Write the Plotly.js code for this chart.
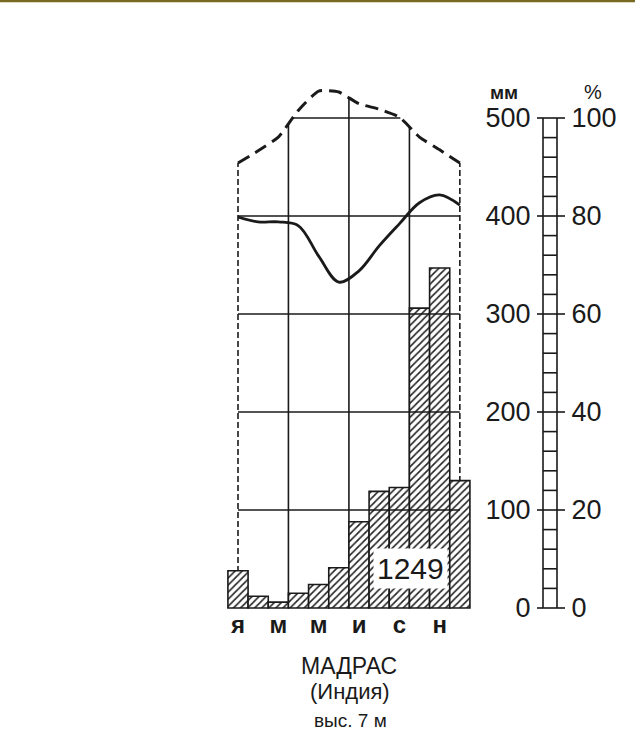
<!DOCTYPE html>
<html>
<head>
<meta charset="utf-8">
<script src="https://cdn.plot.ly/plotly-3.0.1.min.js"></script>
<style>
  html, body { margin: 0; padding: 0; background: #ffffff; }
  #chart { width: 635px; height: 744px; }
</style>
</head>
<body>
<div id="chart"></div>
<script>
// ---- data ----
const monthIndex = [1, 2, 3, 4, 5, 6, 7, 8, 9, 10, 11, 12];
const monthTickVals = [1, 3, 5, 7, 9, 11];
const monthTickText = ['я', 'м', 'м', 'и', 'с', 'н'];
const precipitationMm = [38, 12, 6, 15, 24, 41, 88, 119, 123, 306, 347, 130];
const humidityPct = [79.8, 78.8, 78.8, 78.0, 71.8, 66.5, 68.8, 73.9, 78.4, 82.7, 84.3, 82.2];
const dashedPct = [90.8, 93.3, 96.1, 101.6, 105.5, 105.3, 102.9, 101.8, 100.2, 96.1, 93.5, 90.8];
const mmTicks = [0, 100, 200, 300, 400, 500];
const pctTicks = [0, 20, 40, 60, 80, 100];
const annualTotalLabel = '1249';
const stationName = 'МАДРАС';
const countryName = '(Индия)';
const altitudeText = 'выс. 7 м';

// ---- geometry (pixel mapping of the page) ----
const W = 635, H = 744;
const pxPerMonth = 20.167, janCenterPx = 238;
const X_RANGE = [1 - janCenterPx / pxPerMonth, 1 + (W - janCenterPx) / pxPerMonth];
const zeroPx = 608, pxPerMm = 0.98;
const Y_RANGE = [-(H - zeroPx) / pxPerMm, zeroPx / pxPerMm];
const PCT_RANGE = [Y_RANGE[0] / 5, Y_RANGE[1] / 5];
const FONT = 'Liberation Sans, Arial, sans-serif';
const INK = '#1a1a1a';

function dashedAt(x) {
  const i = Math.min(Math.max(Math.floor(x) - 1, 0), 10);
  const t = x - monthIndex[i];
  return dashedPct[i] + (dashedPct[i + 1] - dashedPct[i]) * t;
}
function crossing(target, fromLeft) {
  if (fromLeft) {
    for (let i = 0; i < 11; i++) if (dashedPct[i] < target && dashedPct[i + 1] >= target)
      return monthIndex[i] + (target - dashedPct[i]) / (dashedPct[i + 1] - dashedPct[i]);
  } else {
    for (let i = 11; i > 0; i--) if (dashedPct[i] < target && dashedPct[i - 1] >= target)
      return monthIndex[i] - (target - dashedPct[i]) / (dashedPct[i - 1] - dashedPct[i]);
  }
  return null;
}

const shapes = [];
[3.5, 6.5, 9.5].forEach(x => shapes.push({
  type: 'line', xref: 'x', yref: 'y2', x0: x, x1: x, y0: 0, y1: dashedAt(x),
  line: { color: INK, width: 1.6 }, layer: 'below'
}));
[1, 12].forEach(x => shapes.push({
  type: 'line', xref: 'x', yref: 'y2', x0: x, x1: x, y0: 0, y1: dashedAt(x),
  line: { color: INK, width: 1.6, dash: '6px,3px' }, layer: 'below'
}));
mmTicks.filter(v => v > 0 && v < 500).forEach(v => shapes.push({
  type: 'line', xref: 'x', yref: 'y', x0: 1, x1: 12, y0: v, y1: v,
  line: { color: INK, width: 1.6 }, layer: 'above'
}));
const xl = crossing(100, true), xr = crossing(100, false);
shapes.push({
  type: 'line', xref: 'x', yref: 'y', x0: xl, x1: xr, y0: 500, y1: 500,
  line: { color: INK, width: 1.6 }, layer: 'below'
});
const ladL = 543 / W, ladR = 557 / W;
[ladL, ladR].forEach(x => shapes.push({
  type: 'line', xref: 'paper', yref: 'y', x0: x, x1: x, y0: 0, y1: 500,
  line: { color: INK, width: 1.6 }
}));
for (let v = 0; v <= 500; v += 20) {
  const major = v % 100 === 0;
  shapes.push({
    type: 'line', xref: 'paper', yref: 'y',
    x0: major ? 537 / W : ladL, x1: major ? 565 / W : ladR, y0: v, y1: v,
    line: { color: INK, width: 1.6 }
  });
}
shapes.push({
  type: 'rect', xref: 'paper', yref: 'paper', x0: 0, x1: 1, y0: 1 - 2.2 / H, y1: 1,
  fillcolor: '#776b22', line: { width: 0 }
});

const traces = [
  {
    type: 'bar', x: monthIndex, y: precipitationMm, yaxis: 'y', width: 1,
    marker: {
      color: '#ffffff',
      line: { color: INK, width: 1.6 },
      pattern: { shape: '/', fgcolor: '#222222', bgcolor: '#ffffff', size: 5, solidity: 0.32 }
    },
    hoverinfo: 'skip', showlegend: false
  },
  {
    type: 'scatter', mode: 'lines', x: monthIndex, y: dashedPct, yaxis: 'y2',
    line: { color: INK, width: 3, dash: '13px,7px', shape: 'spline', smoothing: 0.5 },
    hoverinfo: 'skip', showlegend: false
  },
  {
    type: 'scatter', mode: 'lines', x: monthIndex, y: humidityPct, yaxis: 'y2',
    line: { color: INK, width: 2.8, shape: 'spline', smoothing: 1 },
    hoverinfo: 'skip', showlegend: false
  }
];

const layout = {
  width: W, height: H,
  margin: { l: 0, r: 0, t: 0, b: 0, pad: 0 },
  paper_bgcolor: '#ffffff', plot_bgcolor: 'rgba(0,0,0,0)',
  font: { family: FONT, color: INK },
  showlegend: false, bargap: 0,
  xaxis: {
    range: X_RANGE, anchor: 'free', position: (H - zeroPx) / H,
    tickvals: monthTickVals, ticktext: monthTickText,
    ticks: '', 
    tickfont: { family: FONT, size: 24, color: INK, weight: 'bold' },
    showgrid: false, zeroline: false, showline: false, fixedrange: true
  },
  yaxis: {
    range: Y_RANGE, anchor: 'free', position: ladL, side: 'left',
    tickvals: mmTicks, ticks: 'outside', ticklen: 7, tickcolor: 'rgba(0,0,0,0)',
    showgrid: false, zeroline: false, showline: false,
    tickfont: { family: FONT, size: 27, color: INK }, fixedrange: true
  },
  yaxis2: {
    range: PCT_RANGE, overlaying: 'y', anchor: 'free', position: ladR, side: 'right',
    tickvals: pctTicks, ticks: 'outside', ticklen: 8, tickcolor: 'rgba(0,0,0,0)',
    showgrid: false, zeroline: false, showline: false,
    tickfont: { family: FONT, size: 27, color: INK }, fixedrange: true
  },
  shapes: shapes,
  annotations: [
    {
      text: annualTotalLabel, xref: 'x', yref: 'y', x: 9.53, y: 40,
      xanchor: 'center', yanchor: 'middle',
      showarrow: false, bgcolor: '#ffffff', borderpad: 3,
      font: { family: FONT, size: 30, color: INK }
    },
    { text: stationName, xref: 'paper', yref: 'paper', x: 349 / W, y: 1 - 665.5 / H,
      showarrow: false, xanchor: 'center', yanchor: 'middle', font: { family: FONT, size: 23, color: INK } },
    { text: countryName, xref: 'paper', yref: 'paper', x: 350 / W, y: 1 - 691 / H,
      showarrow: false, xanchor: 'center', yanchor: 'middle', font: { family: FONT, size: 22, color: INK } },
    { text: altitudeText, xref: 'paper', yref: 'paper', x: 350 / W, y: 1 - 720 / H,
      showarrow: false, xanchor: 'center', yanchor: 'middle', font: { family: FONT, size: 19, color: INK } },
    { text: 'мм', xref: 'paper', yref: 'paper', x: 504 / W, y: 1 - 92 / H,
      showarrow: false, xanchor: 'center', yanchor: 'middle', font: { family: FONT, size: 19, color: INK, weight: 'bold' } },
    { text: '%', xref: 'paper', yref: 'paper', x: 593 / W, y: 1 - 92 / H,
      showarrow: false, xanchor: 'center', yanchor: 'middle', font: { family: FONT, size: 20, color: INK } }
  ]
};

Plotly.newPlot('chart', traces, layout, { displayModeBar: false, staticPlot: true });
</script>
</body>
</html>
